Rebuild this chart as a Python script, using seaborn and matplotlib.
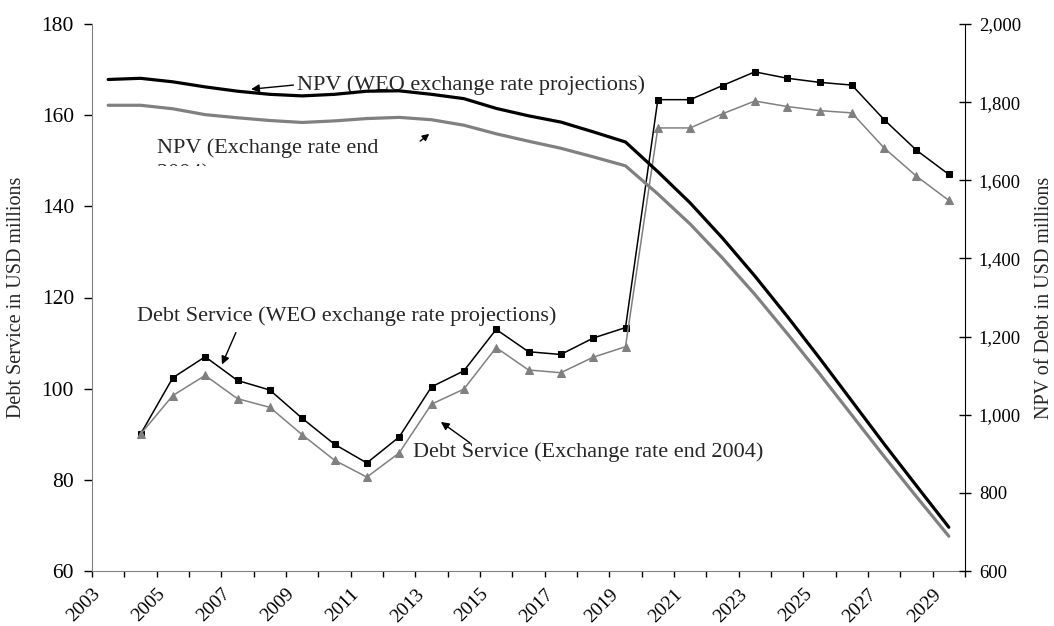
import matplotlib
matplotlib.use("Agg")
import matplotlib.pyplot as plt
import matplotlib.ticker as mticker
import matplotlib.transforms as mtransforms
import seaborn as sns


sns.set_style("ticks")
plt.rcParams['font.family'] = ['Liberation Serif', 'DejaVu Serif']

# years on the category axis
npv_years = list(range(2003, 2030))
ds_years = list(range(2004, 2030))

# debt service, USD millions (left axis)
ds_weo = [90.0, 102.4, 107.0, 101.8, 99.7, 93.5, 87.8, 83.7, 89.4, 100.4,
          103.9, 113.0, 108.1, 107.5, 111.1, 113.4, 163.4, 163.4, 166.5,
          169.5, 168.1, 167.2, 166.6, 159.0, 152.3, 147.0]
ds_end2004 = [90.0, 98.5, 102.9, 97.8, 95.9, 89.9, 84.3, 80.6, 85.9, 96.6,
              99.9, 109.0, 104.1, 103.5, 106.9, 109.2, 157.2, 157.2, 160.3,
              163.1, 161.9, 161.0, 160.5, 152.8, 146.6, 141.3]

# NPV of debt, USD millions (right axis)
npv_weo = [1858, 1861, 1852, 1839, 1828, 1820, 1816, 1820, 1828, 1829,
           1820, 1809, 1784, 1765, 1749, 1724, 1698, 1622, 1542, 1452,
           1355, 1252, 1145, 1035, 925, 818, 712]
npv_end2004 = [1792, 1792, 1783, 1768, 1760, 1753, 1748, 1752, 1758, 1761,
               1755, 1741, 1719, 1700, 1682, 1660, 1637, 1565, 1488, 1401,
               1308, 1208, 1105, 999, 893, 790, 689]

GREY = '#808080'
FS = 16

fig = plt.figure(figsize=(10.54, 6.26), dpi=100)
fig.subplots_adjust(left=92 / 1054, right=965 / 1054, top=1 - 24 / 626, bottom=1 - 571 / 626)
ax = fig.add_subplot(111)
ax2 = ax.twinx()

sns.lineplot(x=npv_years, y=npv_weo, ax=ax2, color='black', lw=2.3)
sns.lineplot(x=npv_years, y=npv_end2004, ax=ax2, color=GREY, lw=2.3)
sns.lineplot(x=ds_years, y=ds_weo, ax=ax, color='black', lw=1.1,
             marker='s', markersize=4.5, markeredgecolor='black')
sns.lineplot(x=ds_years, y=ds_end2004, ax=ax, color=GREY, lw=1.1,
             marker='^', markersize=5.5, markeredgecolor=GREY)

# axes
ax.set_xlim(2002.5, 2029.5)
ax.set_ylim(60, 180)
ax2.set_ylim(600, 2000)
ax.set_yticks(range(60, 181, 20))
ax2.set_yticks(range(600, 2001, 200))
ax2.yaxis.set_major_formatter(mticker.StrMethodFormatter('{x:,.0f}'))

ticks = [2002.5 + k for k in range(28)]
labels = [str(2003 + k) if k % 2 == 0 and k < 27 else '' for k in range(28)]
ax.set_xticks(ticks)
ax.set_xticklabels(labels, rotation=45, ha='right', va='top', rotation_mode='anchor')
shift = mtransforms.ScaledTranslation(0.02, 0.0, fig.dpi_scale_trans)
for lab in ax.get_xticklabels():
    lab.set_transform(lab.get_transform() + shift)

for s in ['top', 'right']:
    ax.spines[s].set_visible(False)
for s in ['top', 'left', 'bottom']:
    ax2.spines[s].set_visible(False)
ax.spines['left'].set_color(GREY)
ax.spines['bottom'].set_color(GREY)
ax2.spines['right'].set_color('black')

ax.tick_params(axis='y', direction='out', length=6, width=1, pad=7, labelsize=15.5, colors='black')
ax.tick_params(axis='x', direction='out', length=4.5, width=1, pad=6, labelsize=14, colors='black')
ax2.tick_params(axis='y', direction='inout', length=8, width=1, pad=6, labelsize=13.5, colors='black')

ax.set_xlabel('')
ax.set_ylabel('Debt Service in USD millions', fontsize=14.5, labelpad=11)
ax2.set_ylabel('NPV of Debt in USD millions', fontsize=14.5, rotation=90, labelpad=10)

# annotations
arrow = dict(arrowstyle='-|>', color='black', lw=1, shrinkA=0, shrinkB=0,
             mutation_scale=12, relpos=(0, 0.5))
ax.annotate('NPV (WEO exchange rate projections)', xy=(2007.42, 165.7),
            xytext=(2008.83, 165.6), ha='left', va='baseline', fontsize=FS,
            arrowprops=arrow)
ax.text(2004.5, 151.65, 'NPV (Exchange rate end', ha='left', va='baseline', fontsize=FS)
# second line of this label is cut off by its text box in the original
cut = ax.text(2004.5, 146.0, '2004)', ha='left', va='baseline', fontsize=FS)
cut.set_clip_box(mtransforms.Bbox.from_extents(0, 626 - 166, 1054, 626))
cut.set_clip_on(True)
ax.annotate('', xy=(2012.93, 155.9), xytext=(2012.65, 154.3),
            arrowprops=dict(arrowstyle='-|>', color='black', lw=1, shrinkA=0,
                            shrinkB=0, mutation_scale=10))
ax.annotate('Debt Service (WEO exchange rate projections)', xy=(2003.88, 114.95),
            ha='left', va='baseline', fontsize=FS)
ax.annotate('', xy=(2006.52, 105.3), xytext=(2006.95, 112.3),
            arrowprops=dict(arrowstyle='-|>', color='black', lw=1, shrinkA=0,
                            shrinkB=0, mutation_scale=12))
ax.annotate('Debt Service (Exchange rate end 2004)', xy=(2012.43, 85.1),
            ha='left', va='baseline', fontsize=FS)
ax.annotate('', xy=(2013.29, 92.7), xytext=(2014.19, 88.1),
            arrowprops=dict(arrowstyle='-|>', color='black', lw=1, shrinkA=0,
                            shrinkB=0, mutation_scale=12))

fig.savefig('out.png', dpi=100)
